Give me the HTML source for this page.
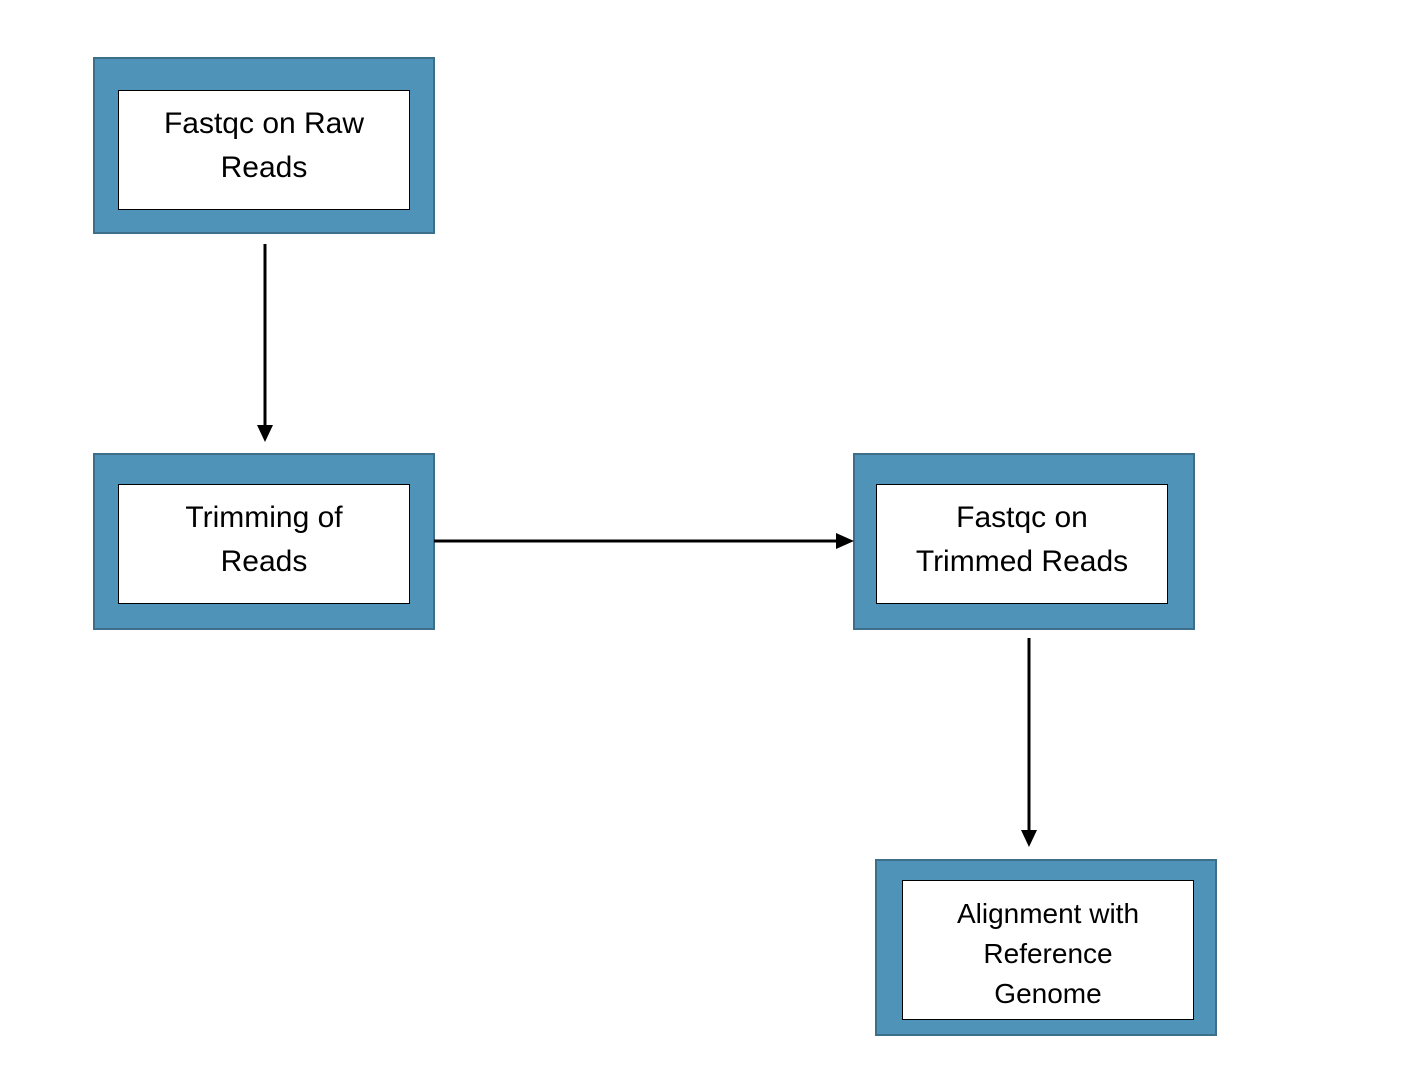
<!DOCTYPE html>
<html><head><style>
body{margin:0;width:1418px;height:1090px;background:#fff;position:relative;overflow:hidden;font-family:"Liberation Sans",sans-serif}
.o{position:absolute;background:#4f93b8;border:2px solid #3d6f8b;box-sizing:border-box}
.i{position:absolute;background:#fff;border:1px solid #000;box-sizing:border-box;display:flex;align-items:center;justify-content:center;text-align:center;font-size:30px;line-height:44px;color:#000;padding-bottom:8px}
</style></head><body>
<div class="o" style="left:93px;top:57px;width:342px;height:177px"></div>
<div class="i" style="left:118px;top:90px;width:292px;height:120px">Fastqc on Raw<br>Reads</div>
<div class="o" style="left:93px;top:453px;width:342px;height:177px"></div>
<div class="i" style="left:118px;top:484px;width:292px;height:120px">Trimming of<br>Reads</div>
<div class="o" style="left:853px;top:453px;width:342px;height:177px"></div>
<div class="i" style="left:876px;top:484px;width:292px;height:120px">Fastqc on<br>Trimmed Reads</div>
<div class="o" style="left:875px;top:859px;width:342px;height:177px"></div>
<div class="i" style="left:902px;top:880px;width:292px;height:140px;font-size:28px;line-height:40px;padding-bottom:0;padding-top:8px">Alignment with<br>Reference<br>Genome</div>
<svg width="1418" height="1090" style="position:absolute;left:0;top:0">
<g stroke="#000" stroke-width="3">
<line x1="265" y1="244" x2="265" y2="427"/>
<line x1="434" y1="541" x2="838" y2="541"/>
<line x1="1029" y1="638" x2="1029" y2="832"/>
</g>
<polygon points="257,425 273,425 265,442" fill="#000"/>
<polygon points="836,533 836,549 854,541" fill="#000"/>
<polygon points="1021,830 1037,830 1029,847" fill="#000"/>
</svg>
</body></html>
